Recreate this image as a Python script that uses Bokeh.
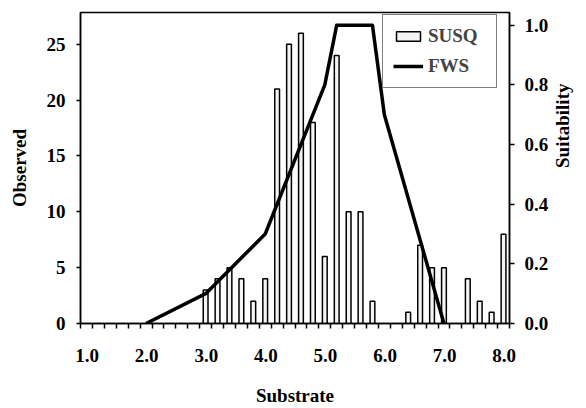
import math
from bokeh.plotting import figure
from bokeh.models import (ColumnDataSource, Range1d, LinearAxis, FixedTicker,
                          NumeralTickFormatter, Legend, LegendItem)
from bokeh.embed import file_html
from bokeh.resources import INLINE

# ---- data ----
substrate = [1.0, 1.2, 1.4, 1.6, 1.8, 2.0, 2.2, 2.4, 2.6, 2.8,
             3.0, 3.2, 3.4, 3.6, 3.8, 4.0, 4.2, 4.4, 4.6, 4.8,
             5.0, 5.2, 5.4, 5.6, 5.8, 6.0, 6.2, 6.4, 6.6, 6.8,
             7.0, 7.2, 7.4, 7.6, 7.8, 8.0]
observed_susq = [0, 0, 0, 0, 0, 0, 0, 0, 0, 0,
                 3, 4, 5, 4, 2, 4, 21, 25, 26, 18,
                 6, 24, 10, 10, 2, 0, 0, 1, 7, 5,
                 5, 0, 4, 2, 1, 8]
fws_substrate = [2.0, 3.0, 4.0, 5.0, 5.2, 5.8, 6.0, 7.0]
fws_suitability = [0.0, 0.1, 0.3, 0.8, 1.0, 1.0, 0.7, 0.0]
x_tick_labels = [1.0, 2.0, 3.0, 4.0, 5.0, 6.0, 7.0, 8.0]
left_ticks = [0, 5, 10, 15, 20, 25]
right_ticks = [0.0, 0.2, 0.4, 0.6, 0.8, 1.0]

FONT = "Liberation Serif"
FS = "19px"

step = round(substrate[1] - substrate[0], 2)
bars = ColumnDataSource(dict(
    x=[s for s, o in zip(substrate, observed_susq) if o > 0],
    top=[o for o in observed_susq if o > 0]))
line = ColumnDataSource(dict(x=fws_substrate, y=fws_suitability))

p = figure(width=586, height=408, output_backend="svg", toolbar_location=None,
           x_range=Range1d(substrate[0] - step / 2, substrate[-1] + step / 2),
           y_range=Range1d(0, 27.85),
           min_border_left=80, min_border_right=74, min_border_top=12,
           min_border_bottom=78)
p.extra_y_ranges = {"suit": Range1d(0, 1.0426)}
p.xgrid.visible = False
p.ygrid.visible = False
p.outline_line_color = "black"
p.outline_line_width = 1.5
p.outline_line_alpha = 1.0

r_bar = p.vbar(x="x", top="top", bottom=0, width=step * 0.4, source=bars,
               fill_color="#f4f4f4", line_color="black", line_width=1.5)
r_line = p.line(x="x", y="y", source=line, y_range_name="suit",
                line_color="black", line_width=3.5, line_join="round")

# x axis: tick marks at category boundaries; each whole value is written
# under its category (label anchored on the boundary to its left, shifted
# half a category with a leading en space + thin space)
xa = p.xaxis[0]
boundaries = [round(s - step / 2, 2) for s in substrate] + [round(substrate[-1] + step / 2, 2)]
xa.ticker = FixedTicker(ticks=boundaries, minor_ticks=[])
overrides = {b: "" for b in boundaries}
for v in x_tick_labels:
    overrides[round(v - step / 2, 2)] = "\u2002\u2009" + "%.1f" % v
xa.major_label_overrides = overrides
xa.major_tick_out = 5
xa.major_tick_in = 0
xa.major_tick_line_width = 1.5
xa.major_tick_line_color = "black"
xa.axis_line_width = 1.5
xa.axis_line_color = "black"
xa.major_label_standoff = 16
xa.axis_label = "Substrate"
xa.axis_label_standoff = 16

# left axis
ya = p.yaxis[0]
ya.ticker = FixedTicker(ticks=left_ticks, minor_ticks=[])
ya.major_tick_out = 4
ya.major_tick_in = 0
ya.major_tick_line_width = 1.5
ya.major_tick_line_color = "black"
ya.axis_line_width = 1.5
ya.axis_line_color = "black"
ya.major_label_standoff = 11
ya.axis_label = "Observed"
ya.axis_label_standoff = 14

# right axis
ra = LinearAxis(y_range_name="suit",
                ticker=FixedTicker(ticks=right_ticks, minor_ticks=[]),
                formatter=NumeralTickFormatter(format="0.0"))
ra.major_tick_out = 5
ra.major_tick_in = 0
ra.major_tick_line_width = 1.5
ra.major_tick_line_color = "black"
ra.axis_line_width = 1.5
ra.axis_line_color = "black"
ra.major_label_standoff = 10
ra.axis_label = "Suitability"
ra.axis_label_standoff = 11
ra.axis_label_orientation = math.pi / 2
p.add_layout(ra, "right")

for ax in (xa, ya, ra):
    ax.major_label_text_font = FONT
    ax.major_label_text_font_style = "bold"
    ax.major_label_text_font_size = FS
    ax.major_label_text_color = "black"
    ax.axis_label_text_font = FONT
    ax.axis_label_text_font_style = "bold"
    ax.axis_label_text_font_size = FS
    ax.axis_label_text_color = "black"

legend = Legend(items=[LegendItem(label="SUSQ", renderers=[r_bar]),
                       LegendItem(label="FWS", renderers=[r_line])],
                location=(302, 235))
legend.border_line_color = "black"
legend.border_line_width = 1.5
legend.background_fill_color = "white"
legend.background_fill_alpha = 1.0
legend.label_text_font = FONT
legend.label_text_font_style = "bold"
legend.label_text_font_size = FS
legend.glyph_width = 30
legend.glyph_height = 12
legend.label_width = 58
legend.spacing = 8
legend.padding = 10
legend.margin = 0
legend.label_standoff = 5
p.add_layout(legend, "center")

open("out.html", "w").write(file_html(p, INLINE))
